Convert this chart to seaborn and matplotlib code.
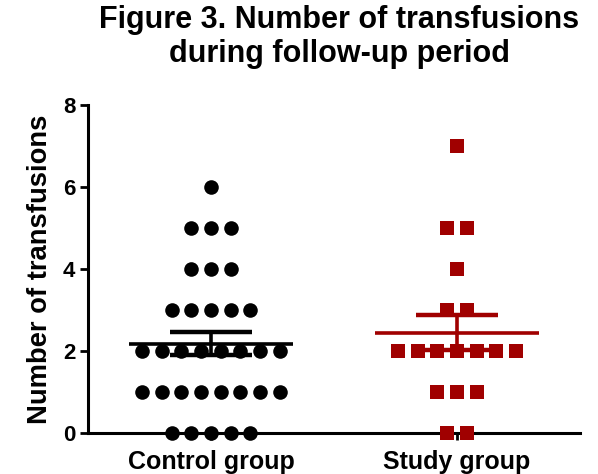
import numpy as np
import pandas as pd
import matplotlib
matplotlib.use("Agg")
import matplotlib.pyplot as plt
import seaborn as sns

# Transfusion counts per patient, grouped by value
groups = ["Control group", "Study group"]
control_values = [6, 5, 5, 5, 4, 4, 4, 3, 3, 3, 3, 3,
                  2, 2, 2, 2, 2, 2, 2, 2,
                  1, 1, 1, 1, 1, 1, 1, 1,
                  0, 0, 0, 0, 0]
study_values = [7, 5, 5, 4, 3, 3,
                2, 2, 2, 2, 2, 2, 2,
                1, 1, 1, 0, 0]
y_ticks = [0, 2, 4, 6, 8]
colors = {"Control group": "#000000", "Study group": "#A00000"}
markers = {"Control group": "o", "Study group": "s"}

df = pd.DataFrame({
    "group": [groups[0]] * len(control_values) + [groups[1]] * len(study_values),
    "value": control_values + study_values,
})

# Lay identical values out side by side, centred on the group position
step = 0.08
df["pos"] = df["group"].map({g: i for i, g in enumerate(groups)}).astype(float)
df["rank"] = df.groupby(["group", "value"]).cumcount()
df["count"] = df.groupby(["group", "value"])["value"].transform("size")
df["x"] = df["pos"] + (df["rank"] - (df["count"] - 1) / 2) * step

sns.set_theme(style="ticks")
plt.rcParams["font.family"] = ["Liberation Sans", "DejaVu Sans"]
plt.rcParams["text.color"] = "black"
plt.rcParams["axes.labelcolor"] = "black"

fig = plt.figure(figsize=(5.98, 4.74), dpi=100)
ax = fig.add_axes([0.147, 0.0865, 0.823, 0.6915])

# Mean and SEM per group
stats = df.groupby("group")["value"].agg(["mean", "sem"]).reindex(groups)
for i, g in enumerate(groups):
    m, s = stats.loc[g, "mean"], stats.loc[g, "sem"]
    c = colors[g]
    ax.hlines(m, i - 0.333, i + 0.333, color=c, lw=2.6, zorder=2)
    ax.vlines(i, m - s, m + s, color=c, lw=2.6, zorder=2)
    ax.hlines([m - s, m + s], i - 0.167, i + 0.167, color=c, lw=3.2, zorder=2)

for g in groups:
    sub = df[df["group"] == g]
    sns.scatterplot(data=sub, x="x", y="value", ax=ax, color=colors[g],
                    marker=markers[g], s=110, linewidth=0, zorder=3,
                    legend=False, clip_on=False)

ax.set_xlim(-0.5, 1.5)
ax.set_ylim(0, 8)
ax.set_xticks(range(len(groups)))
ax.set_xticklabels(groups, fontsize=18, fontweight="bold")
ax.set_yticks(y_ticks)
ax.set_yticklabels([str(t) for t in y_ticks], fontsize=16, fontweight="bold")
ax.set_xlabel("")
ax.set_ylabel("Number of transfusions", fontsize=19.7, fontweight="bold", labelpad=7)
ax.tick_params(axis="both", colors="black", width=2, length=6, pad=3)
ax.tick_params(axis="x", length=5, pad=7)
for side in ("top", "right"):
    ax.spines[side].set_visible(False)
for side in ("left", "bottom"):
    ax.spines[side].set_linewidth(2.2)
    ax.spines[side].set_color("black")

fig.suptitle("Figure 3. Number of transfusions\nduring follow-up period",
             x=0.567, y=0.99, fontsize=22, fontweight="bold", linespacing=1.2,
             color="black")

fig.savefig("out.png", dpi=100)
